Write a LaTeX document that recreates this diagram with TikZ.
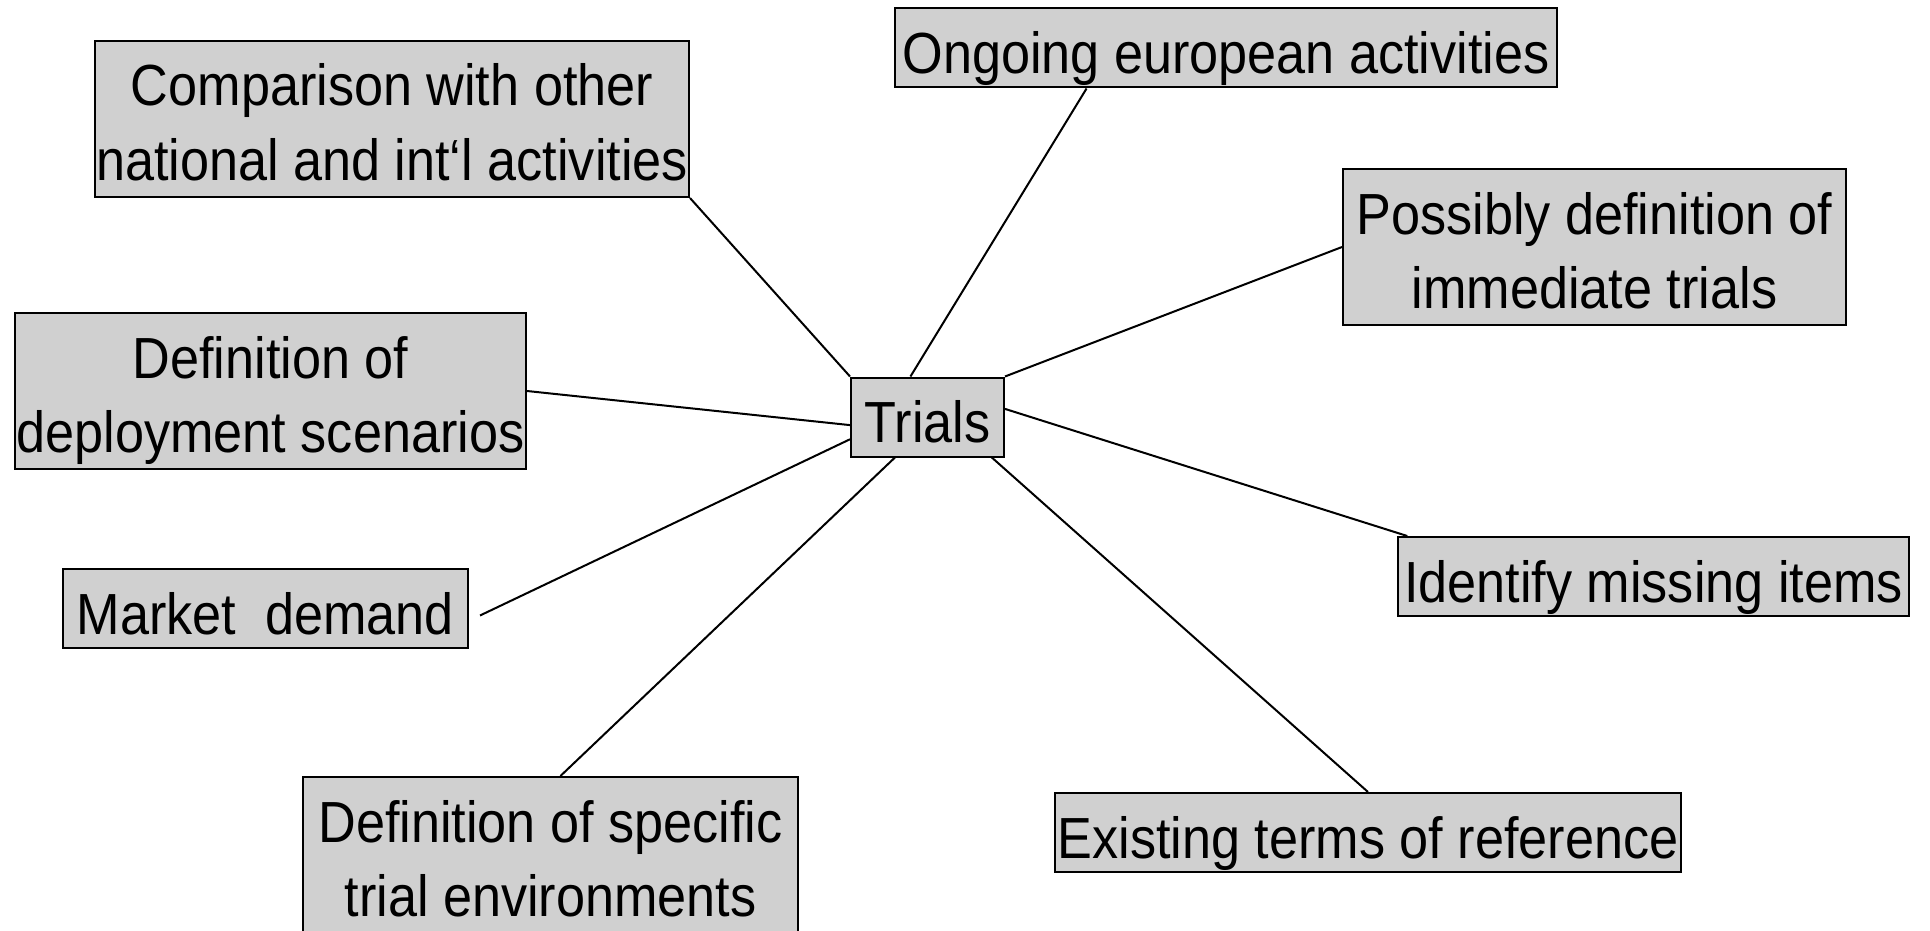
\documentclass[tikz,border=0pt]{standalone}
\usepackage{fontspec}
\setmainfont{Liberation Sans}[FakeStretch=0.9]
\usetikzlibrary{calc}
\definecolor{boxgray}{RGB}{208,208,208}
\begin{document}
\begin{tikzpicture}[x=1pt,y=-1pt,
  box/.style={draw=black, line width=2pt, fill=boxgray, inner sep=0pt, align=center,
    font=\fontsize{58}{74}\selectfont},
  one/.style={box, text height=65pt, text depth=14pt, minimum height=79pt},
  two/.style={box, text height=139pt, text depth=17pt, minimum height=156pt},
  link/.style={draw=black, line width=2pt}]
\useasboundingbox (0,0) rectangle (1930,931);
\node[one, minimum width=662pt] (ongoing) at (1226,48) {Ongoing european activities};
\node[two, minimum width=594pt] (comp) at (392,119) {Comparison with other\\national and int‘l activities};
\node[two, minimum width=503pt] (poss) at (1594.5,247) {Possibly definition of\\immediate trials};
\node[two, minimum width=511pt] (deploy) at (270.5,391) {Definition of\\deployment scenarios};
\node[one, minimum width=153pt] (trials) at (927.5,417) {Trials};
\node[one, minimum width=405pt] (market) at (265.5,608.5) {Market\ \ demand};
\node[one, minimum width=511pt] (ident) at (1653.5,576.5) {Identify missing items};
\node[two, minimum width=495pt] (spec) at (550.5,855) {Definition of specific\\trial environments};
\node[one, minimum width=626pt] (exist) at (1368,832.5) {Existing terms of reference};
\draw[link] (comp.south east) -- (trials.north west);
\draw[link] ($(ongoing.south west)!0.29!(ongoing.south east)$) -- ($(trials.north west)!0.39!(trials.north east)$);
\draw[link] (poss.west) -- (trials.north east);
\draw[link] (deploy.east) -- ($(trials.north west)!0.6!(trials.south west)$);
\draw[link] ($(market.east)+(11,7)$) -- ($(trials.north west)!0.775!(trials.south west)$);
\draw[link] ($(spec.north west)!0.52!(spec.north east)$) -- ($(trials.south west)!0.29!(trials.south east)$);
\draw[link] (exist.north) -- ($(trials.south west)!0.915!(trials.south east)$);
\draw[link] ($(ident.north west)!0.02!(ident.north east)$) -- ($(trials.north east)!0.4!(trials.south east)$);
\end{tikzpicture}
\end{document}
